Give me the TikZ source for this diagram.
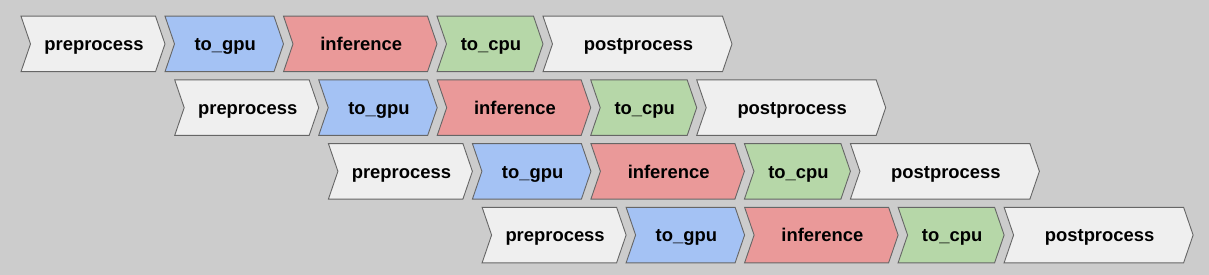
\documentclass[tikz,border=0pt]{standalone}
\usepackage{fontspec}
\setmainfont{Liberation Sans}
\definecolor{bg}{HTML}{CCCCCC}
\definecolor{cgray}{HTML}{EFEFEF}
\definecolor{cblue}{HTML}{A4C2F4}
\definecolor{cred}{HTML}{EA9999}
\definecolor{cgreen}{HTML}{B6D7A8}
\definecolor{edge}{HTML}{666666}
\newcommand\chevron[6]{%
  \draw[chev, fill=#5] (#2,#3) -- ++(#4-9.5,0) -- ++(9.5,27.75) -- ++(-9.5,27.75)
     -- ++(-#4+9.5,0) -- ++(9.5,-27.75) -- cycle;
  \node[lbl] (#1) at (#2+#4/2+1,#3+34.5) {#6};
}
\begin{document}
\begin{tikzpicture}[x=1pt,y=-1pt,
  chev/.style={draw=edge, line width=0.9pt, line join=miter},
  lbl/.style={font=\fontsize{18.4}{20}\selectfont\bfseries, text=black, inner sep=0pt, anchor=base}]
\fill[bg] (0,0) rectangle (1209,275);
\useasboundingbox (0,0) rectangle (1209,275);
\foreach \r in {0,1,2,3}{
  \pgfmathsetmacro\ox{21+153.7*\r}
  \pgfmathsetmacro\oy{16.2+63.7*\r}
  \chevron{pre\r}{\ox}{\oy}{144}{cgray}{preprocess}
  \chevron{gpu\r}{\ox+144}{\oy}{118.5}{cblue}{to\_gpu}
  \chevron{inf\r}{\ox+262.5}{\oy}{153.5}{cred}{inference}
  \chevron{cpu\r}{\ox+416}{\oy}{106}{cgreen}{to\_cpu}
  \chevron{post\r}{\ox+522}{\oy}{189}{cgray}{postprocess}
}
\end{tikzpicture}
\end{document}
